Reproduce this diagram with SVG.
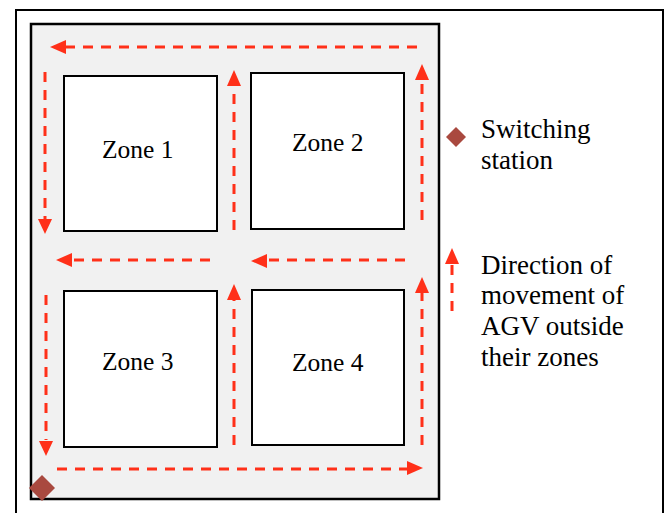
<svg xmlns="http://www.w3.org/2000/svg" width="668" height="513" viewBox="0 0 668 513">
<style>
.frame{fill:#fff;stroke:#000;stroke-width:2}
.area{fill:#f1f1f1;stroke:#000;stroke-width:2.5}
.zone{fill:#fff;stroke:#000;stroke-width:2}
.lbl{font-family:"Liberation Serif","Times New Roman",serif;font-size:25.5px;fill:#000}
.leg{font-family:"Liberation Serif","Times New Roman",serif;font-size:27px;fill:#000}
.flow{fill:none;stroke:#ff3019;stroke-width:3;stroke-dasharray:10 8}
.head{fill:#ff3019}
.sw{fill:#a9493f}
</style>
<rect class="frame" x="16" y="10" width="647" height="520"/>
<rect class="area" x="31" y="24" width="408" height="475"/>
<g id="zone1"><rect class="zone" x="64" y="76" width="153" height="155"/><text class="lbl" x="102" y="158">Zone 1</text></g>
<g id="zone2"><rect class="zone" x="251" y="73" width="153" height="156"/><text class="lbl" x="292" y="151">Zone 2</text></g>
<g id="zone3"><rect class="zone" x="64" y="291" width="153" height="156"/><text class="lbl" x="102" y="370">Zone 3</text></g>
<g id="zone4"><rect class="zone" x="252" y="290" width="152" height="155"/><text class="lbl" x="292" y="371">Zone 4</text></g>
<g id="connectors">
<path class="flow" d="M417 47H66"/><path class="head" d="M50 47L66 40V54Z"/>
<path class="flow" d="M45 72V219"/><path class="head" d="M45 234L38 219H52Z"/>
<path class="flow" d="M234 230V86"/><path class="head" d="M234 70L227 86H241Z"/>
<path class="flow" d="M422 220V80"/><path class="head" d="M422 64L415 80H429Z"/>
<path class="flow" d="M210 260H72"/><path class="head" d="M56 260L72 253V267Z"/>
<path class="flow" d="M405 260H267"/><path class="head" d="M251 261L267 254V268Z"/>
<path class="flow" d="M46 295V440"/><path class="head" d="M46 456L39 441H53Z"/>
<path class="flow" d="M234 445V300"/><path class="head" d="M234 284L227 300H241Z"/>
<path class="flow" d="M422 445V293"/><path class="head" d="M422 277L415 293H429Z"/>
<path class="flow" d="M57 469H407"/><path class="head" d="M423 468L407 461V475Z"/>
</g>
<g id="switching-station"><path class="sw" d="M42 475L55 488L42 501L29 488Z"/></g>
<g id="legend">
<path class="sw" d="M456 127L466 137L456 147L446 137Z"/>
<text class="leg" x="481" y="138">Switching</text>
<text class="leg" x="481" y="169">station</text>
<path class="flow" d="M452 311V264"/><path class="head" d="M452 248L445 264H459Z"/>
<text class="leg" x="481" y="274">Direction of</text>
<text class="leg" x="481" y="304">movement of</text>
<text class="leg" x="481" y="335">AGV outside</text>
<text class="leg" x="481" y="366">their zones</text>
</g>
</svg>
